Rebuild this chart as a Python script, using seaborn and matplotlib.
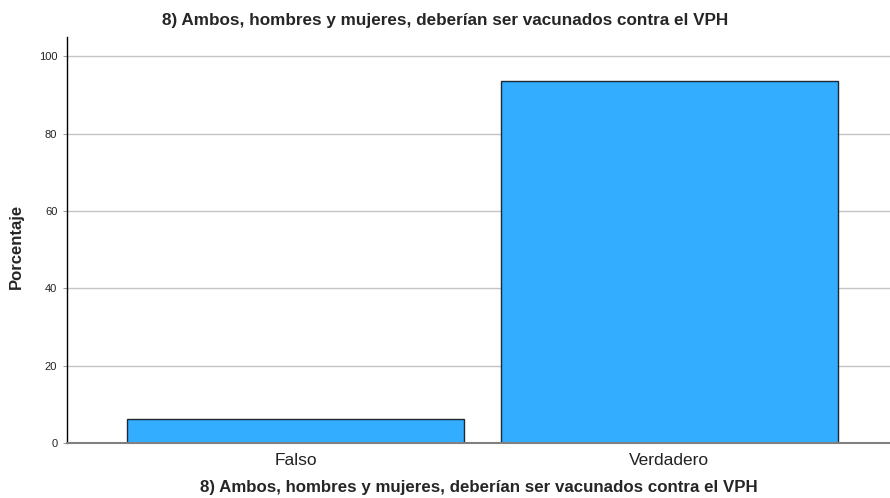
import matplotlib
matplotlib.use("Agg")
import matplotlib.pyplot as plt
import seaborn as sns
import pandas as pd

categories = ["Falso", "Verdadero"]
percentages = [6.3, 93.7]
title = "8) Ambos, hombres y mujeres, deberían ser vacunados contra el VPH"

sns.set_theme(style="white")
plt.rcParams["font.family"] = ["Liberation Sans", "DejaVu Sans"]

df = pd.DataFrame({"cat": categories, "pct": percentages})

fig = plt.figure(figsize=(8.9, 4.98), dpi=100)
ax = fig.add_axes([67/890, 55/498, 1 - 67/890, (443-37)/498])

sns.barplot(data=df, x="cat", y="pct", ax=ax, color="#33adff", saturation=1,
            width=0.9, edgecolor="#1e2833", linewidth=1.0, zorder=3)

ax.set_xlim(-0.611, 1.59)
ax.set_ylim(0, 105)
ax.set_yticks([0, 20, 40, 60, 80, 100])
ax.yaxis.grid(True, color="#c4c4c4", linewidth=1.0, zorder=0)
ax.set_axisbelow(True)

for s in ["top", "right"]:
    ax.spines[s].set_visible(False)
ax.spines["left"].set_color("black")
ax.spines["left"].set_linewidth(1.0)
ax.spines["bottom"].set_color("#808080")
ax.spines["bottom"].set_linewidth(1.5)
ax.spines["bottom"].set_zorder(4)

ax.tick_params(axis="y", left=True, length=3, width=0.6, color="#888888",
               labelsize=8, labelcolor="#222222", pad=4)
ax.tick_params(axis="x", bottom=False, labelsize=12.5, labelcolor="#222222", pad=1)

ax.set_ylabel("Porcentaje", fontsize=12, fontweight="bold")
ax.yaxis.set_label_coords(-0.052, 0.485)
ax.set_xlabel(title, fontsize=12.2, fontweight="bold", labelpad=9)
fig.text(0.5, 1 - 21/498, title, ha="center", va="center",
         fontsize=12.3, fontweight="bold")

fig.savefig("out.png", dpi=100)
